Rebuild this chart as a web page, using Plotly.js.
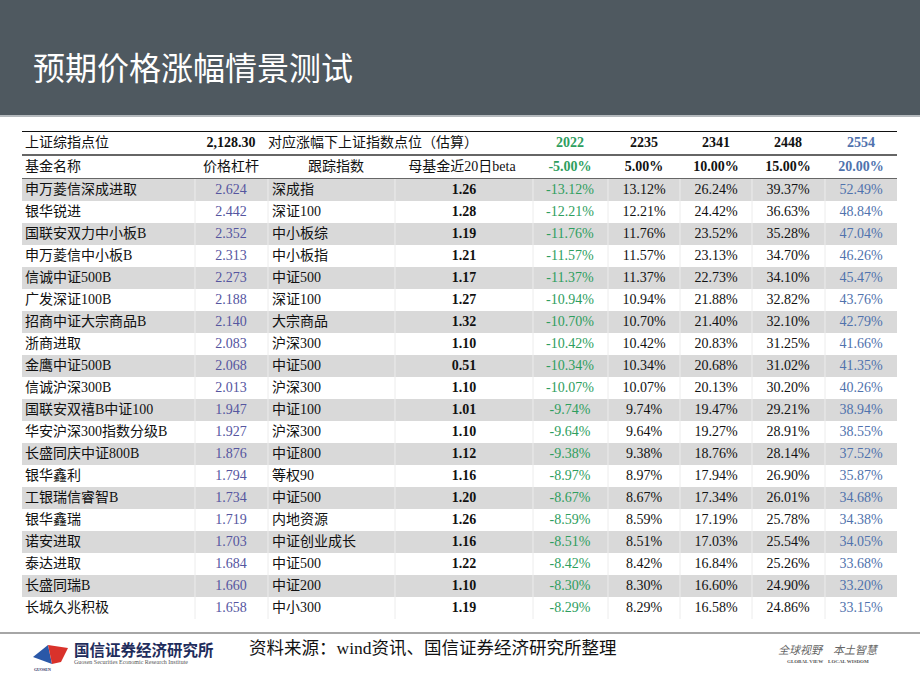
<!DOCTYPE html>
<html>
<head>
<meta charset="utf-8">
<script src="https://cdn.plot.ly/plotly-3.0.1.min.js"></script>
<style>
  html, body { margin: 0; padding: 0; background: #ffffff; }
  #chart { width: 920px; height: 690px; }
</style>
</head>
<body>
<div id="chart"></div>
<script>
// index level and scenario points
var indexLevel = 2128.30;
var scenarioPoints = [2022, 2235, 2341, 2448, 2554];
var scenarioChange = [-5, 5, 10, 15, 20];

var fundNames = ['申万菱信深成进取', '银华锐进', '国联安双力中小板B', '申万菱信中小板B', '信诚中证500B',
    '广发深证100B', '招商中证大宗商品B', '浙商进取', '金鹰中证500B', '信诚沪深300B',
    '国联安双禧B中证100', '华安沪深300指数分级B', '长盛同庆中证800B', '银华鑫利', '工银瑞信睿智B',
    '银华鑫瑞', '诺安进取', '泰达进取', '长盛同瑞B', '长城久兆积极'];
var leverage = [2.624, 2.442, 2.352, 2.313, 2.273, 2.188, 2.140, 2.083, 2.068, 2.013,
    1.947, 1.927, 1.876, 1.794, 1.734, 1.719, 1.703, 1.684, 1.660, 1.658];
var trackIndex = ['深成指', '深证100', '中小板综', '中小板指', '中证500', '深证100', '大宗商品', '沪深300', '中证500', '沪深300',
    '中证100', '沪深300', '中证800', '等权90', '中证500', '内地资源', '中证创业成长', '中证500', '中证200', '中小300'];
var beta = [1.26, 1.28, 1.19, 1.21, 1.17, 1.27, 1.32, 1.10, 0.51, 1.10,
    1.01, 1.10, 1.12, 1.16, 1.20, 1.26, 1.16, 1.22, 1.10, 1.19];
var chgDown5 = [-13.12, -12.21, -11.76, -11.57, -11.37, -10.94, -10.70, -10.42, -10.34, -10.07,
    -9.74, -9.64, -9.38, -8.97, -8.67, -8.59, -8.51, -8.42, -8.30, -8.29];
var chgUp5 = [13.12, 12.21, 11.76, 11.57, 11.37, 10.94, 10.70, 10.42, 10.34, 10.07,
    9.74, 9.64, 9.38, 8.97, 8.67, 8.59, 8.51, 8.42, 8.30, 8.29];
var chgUp10 = [26.24, 24.42, 23.52, 23.13, 22.73, 21.88, 21.40, 20.83, 20.68, 20.13,
    19.47, 19.27, 18.76, 17.94, 17.34, 17.19, 17.03, 16.84, 16.60, 16.58];
var chgUp15 = [39.37, 36.63, 35.28, 34.70, 34.10, 32.82, 32.10, 31.25, 31.02, 30.20,
    29.21, 28.91, 28.14, 26.90, 26.01, 25.78, 25.54, 25.26, 24.90, 24.86];
var chgUp20 = [52.49, 48.84, 47.04, 46.26, 45.47, 43.76, 42.79, 41.66, 41.35, 40.26,
    38.94, 38.55, 37.52, 35.87, 34.68, 34.38, 34.05, 33.68, 33.20, 33.15];

var W = 920, H = 690;
function px(x) { return x / W; }
function py(y) { return 1 - y / H; }

var GREEN = '#2e9e5e', BLUE = '#4f72ad', PURPLE = '#55559f', INK = '#111111';
var FONT = 'Liberation Serif, "Noto Sans CJK SC", serif';
var FS = 14;

// column layout (pixels across the slide)
var TL = 22, TR = 897;
var colEdges = [22, 195, 268, 395, 533, 608, 680, 752, 825, 897];
var colCenter = [25, 231, 336, 464, 570, 644, 716, 788, 861];

function pct(v) { return v.toFixed(2) + '%'; }
function bold(s) { return '<b>' + s + '</b>'; }

var rows = fundNames.map(function (n, i) { return i; });

// one text trace per column, placed through the x and y axes
function textCol(values, x, pos, color, yaxis, yvals) {
    return {
        type: 'scatter', mode: 'text',
        x: values.map(function () { return x; }),
        y: yvals || rows,
        yaxis: yaxis || 'y',
        text: values,
        textposition: pos,
        textfont: {family: FONT, size: FS, color: color},
        hoverinfo: 'skip', cliponaxis: false, showlegend: false
    };
}

var fmtIndex = indexLevel.toLocaleString('en-US', {minimumFractionDigits: 2});

var traces = [
    // header rows (yaxis2: row 0 = index line, row 1 = column names)
    textCol(['上证综指点位', '基金名称'], colCenter[0], 'middle right', INK, 'y2', [0, 1]),
    textCol([bold(fmtIndex), '价格杠杆'], colCenter[1], 'middle center', INK, 'y2', [0, 1]),
    textCol(['对应涨幅下上证指数点位（估算）'], colEdges[2], 'middle right', INK, 'y2', [0]),
    textCol(['跟踪指数'], colCenter[2], 'middle center', INK, 'y2', [1]),
    textCol(['母基金近20日beta'], colCenter[3] - 2, 'middle center', INK, 'y2', [1])
];
var headColors = [GREEN, INK, INK, INK, BLUE];
scenarioPoints.forEach(function (p, i) {
    traces.push(textCol([bold(String(p)), bold(scenarioChange[i].toFixed(2) + '%')],
        colCenter[4 + i], 'middle center', headColors[i], 'y2', [0, 1]));
});

// body
traces.push(textCol(fundNames, colCenter[0], 'middle right', INK));
traces.push(textCol(leverage.map(function (v) { return v.toFixed(3); }), colCenter[1], 'middle center', PURPLE));
traces.push(textCol(trackIndex, colEdges[2] + 4, 'middle right', INK));
traces.push(textCol(beta.map(function (v) { return bold(v.toFixed(2)); }), colCenter[3], 'middle center', INK));
traces.push(textCol(chgDown5.map(pct), colCenter[4], 'middle center', GREEN));
traces.push(textCol(chgUp5.map(pct), colCenter[5], 'middle center', INK));
traces.push(textCol(chgUp10.map(pct), colCenter[6], 'middle center', INK));
traces.push(textCol(chgUp15.map(pct), colCenter[7], 'middle center', INK));
traces.push(textCol(chgUp20.map(pct), colCenter[8], 'middle center', BLUE));

var shapes = [
    // title band
    {type: 'rect', xref: 'paper', yref: 'paper', x0: 0, x1: 1, y0: py(115), y1: 1,
        fillcolor: '#4f5960', line: {width: 0}, layer: 'below'},
    {type: 'line', xref: 'paper', yref: 'paper', x0: 0, x1: 1, y0: py(116), y1: py(116),
        line: {color: '#b4b9bd', width: 2}},
    // footer rule
    {type: 'line', xref: 'paper', yref: 'paper', x0: 0, x1: 1, y0: py(633), y1: py(633),
        line: {color: '#a6a6a6', width: 2}},
    // logo
    {type: 'path', xref: 'paper', yref: 'paper',
        path: 'M' + px(33) + ',' + py(657) + ' L' + px(48) + ',' + py(645) + ' L' + px(52) + ',' + py(664) + ' Z',
        fillcolor: '#2a58a8', line: {width: 0}},
    {type: 'path', xref: 'paper', yref: 'paper',
        path: 'M' + px(48) + ',' + py(645) + ' L' + px(68) + ',' + py(648) + ' L' + px(61) + ',' + py(662) + ' L' + px(52) + ',' + py(664) + ' Z',
        fillcolor: '#d9322b', line: {width: 0}}
];

// striped rows
rows.forEach(function (i) {
    if (i % 2 === 0) {
        shapes.push({type: 'rect', xref: 'x', yref: 'y', x0: TL, x1: TR, y0: i - 0.5, y1: i + 0.5,
            fillcolor: '#d9d9d9', line: {width: 0}, layer: 'below'});
    }
});
// faint cell separators
colEdges.slice(1, -1).forEach(function (e) {
    shapes.push({type: 'line', xref: 'x', yref: 'y', x0: e, x1: e, y0: -0.5, y1: rows.length - 0.5,
        line: {color: '#ececec', width: 1}, layer: 'below'});
});
// table rules
[[-0.5, 2, INK], [0.5, 1.5, '#333333'], [1.5, 1.5, '#333333']].forEach(function (r) {
    shapes.push({type: 'line', xref: 'x', yref: 'y2', x0: TL, x1: TR, y0: r[0], y1: r[0],
        line: {color: r[2], width: r[1]}});
});

var annotations = [
    {text: '预期价格涨幅情景测试', xref: 'paper', yref: 'paper', x: px(31), y: py(66),
        xanchor: 'left', yanchor: 'middle', showarrow: false,
        font: {family: '"Noto Sans CJK SC", sans-serif', size: 32, color: '#ffffff'}},
    {text: '资料来源：wind资讯、国信证券经济研究所整理', xref: 'paper', yref: 'paper', x: px(247), y: py(648),
        xanchor: 'left', yanchor: 'middle', showarrow: false,
        font: {family: FONT, size: 17.5, color: INK}},
    {text: '<b>国信证券经济研究所</b>', xref: 'paper', yref: 'paper', x: px(72), y: py(650),
        xanchor: 'left', yanchor: 'middle', showarrow: false,
        font: {family: FONT, size: 15.5, color: '#1f2d5c'}},
    {text: 'Guosen Securities Economic Research Institute', xref: 'paper', yref: 'paper', x: px(72), y: py(662),
        xanchor: 'left', yanchor: 'middle', showarrow: false,
        font: {family: FONT, size: 6, color: '#555555'}},
    {text: '<b>GUOSEN</b>', xref: 'paper', yref: 'paper', x: px(42), y: py(669),
        xanchor: 'center', yanchor: 'middle', showarrow: false,
        font: {family: FONT, size: 4, color: '#1f2d5c'}},
    {text: '<i>全球视野　本土智慧</i>', xref: 'paper', yref: 'paper', x: px(828), y: py(650),
        xanchor: 'center', yanchor: 'middle', showarrow: false,
        font: {family: FONT, size: 11, color: '#666666'}},
    {text: '<b>GLOBAL VIEW    LOCAL WISDOM</b>', xref: 'paper', yref: 'paper', x: px(828), y: py(661),
        xanchor: 'center', yanchor: 'middle', showarrow: false,
        font: {family: FONT, size: 5, color: '#555555'}}
];

var hidden = {visible: false, showgrid: false, zeroline: false, fixedrange: true};
var layout = {
    width: W,
    height: H,
    margin: {t: 0, r: 0, b: 0, l: 0},
    paper_bgcolor: '#ffffff',
    plot_bgcolor: 'rgba(0,0,0,0)',
    showlegend: false,
    xaxis: Object.assign({range: [0, W], domain: [0, 1]}, hidden),
    yaxis: Object.assign({range: [rows.length - 0.5, -0.5], domain: [py(619), py(179)]}, hidden),
    yaxis2: Object.assign({range: [1.5, -0.5], domain: [py(179), py(131)], anchor: 'x'}, hidden),
    shapes: shapes,
    annotations: annotations
};

Plotly.newPlot('chart', traces, layout, {displayModeBar: false, staticPlot: true});
</script>
</body>
</html>
